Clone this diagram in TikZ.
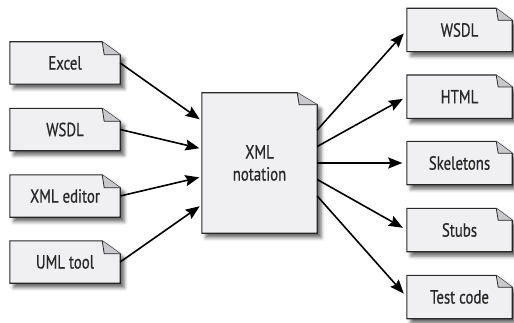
\documentclass[tikz,border=0pt]{standalone}
\usepackage{fontspec}
\setmainfont{PT Sans}[FakeStretch=0.78,FakeBold=0.6]
\usetikzlibrary{arrows.meta,shadows.blur}
\definecolor{docF}{RGB}{240,240,243}
\definecolor{docE}{RGB}{40,40,40}
\definecolor{docD}{RGB}{200,200,205}
\pgfdeclarelayer{bg}
\pgfsetlayers{bg,main}

\begin{document}
\begin{tikzpicture}[x=1pt,y=1pt,>={Stealth[length=14pt,width=11pt,inset=2pt]},
  doc/.style={inner sep=0pt,align=center,font=\fontsize{19}{22}\selectfont,text=docE},
  srcdoc/.style={doc,minimum width=110pt,minimum height=42pt},
  outdoc/.style={doc,minimum width=105pt,minimum height=43pt},
  hubdoc/.style={doc,minimum width=115pt,minimum height=140pt},
  flow/.style={->,line width=1.6pt,black}]
\useasboundingbox (0,0) rectangle (514,322);
% sources
\node[srcdoc] (srcExcel)  at (65,259)   {Excel};
\node[srcdoc] (srcWsdl)   at (65,192.5) {WSDL};
\node[srcdoc] (srcEditor) at (65,126)   {XML editor};
\node[srcdoc] (srcUml)    at (65,60)    {UML tool};
% the notation in the middle
\node[hubdoc] (hub) at (259.5,159) {XML\\notation};
% what is generated from it
\node[outdoc] (outWsdl)  at (459.5,292)   {WSDL};
\node[outdoc] (outHtml)  at (459.5,225.3) {HTML};
\node[outdoc] (outSkel)  at (459.5,159)   {Skeletons};
\node[outdoc] (outStubs) at (459.5,92)    {Stubs};
\node[outdoc] (outTest)  at (459.5,25)    {Test code};
% paper outlines with dog-ears, behind the texts
\begin{pgfonlayer}{bg}
\foreach \n/\fx/\fy in {srcExcel/18/13,srcWsdl/18/13,srcEditor/18/13,srcUml/18/13,
    hub/20/12,outWsdl/16/12,outHtml/16/12,outSkel/16/12,outStubs/16/12,outTest/16/12}{
  \path[fill=docF,draw=docE,line width=1.1pt,
    blur shadow={shadow xshift=4pt,shadow yshift=-4.5pt,shadow blur radius=3.5pt,shadow opacity=60}]
    (\n.south west) -- (\n.north west) -- ([xshift=-\fx]\n.north east)
    -- ([yshift=-\fy]\n.north east) -- (\n.south east) -- cycle;
  \draw[fill=docD,draw=docE,line width=0.8pt,line join=round]
    ([xshift=-\fx]\n.north east) -- ([xshift=2-\fx,yshift=-\fy]\n.north east)
    -- ([yshift=-\fy]\n.north east);
}
\end{pgfonlayer}
% connectors
\foreach \k in {1,...,4}
  \coordinate (hubIn\k) at ([yshift=-28*\k]hub.north west);
\foreach \k in {1,...,5}
  \coordinate (hubOut\k) at ([yshift=49.5-16.5*\k]hub.east);
\foreach \s [count=\k] in {srcExcel,srcWsdl,srcEditor,srcUml}
  \draw[flow,shorten >=2.5pt] (\s.east) -- (hubIn\k);
\foreach \t [count=\k] in {outWsdl,outHtml,outSkel,outStubs,outTest}
  \draw[flow,shorten >=4.5pt] (hubOut\k) -- (\t.west);
\end{tikzpicture}
\end{document}
